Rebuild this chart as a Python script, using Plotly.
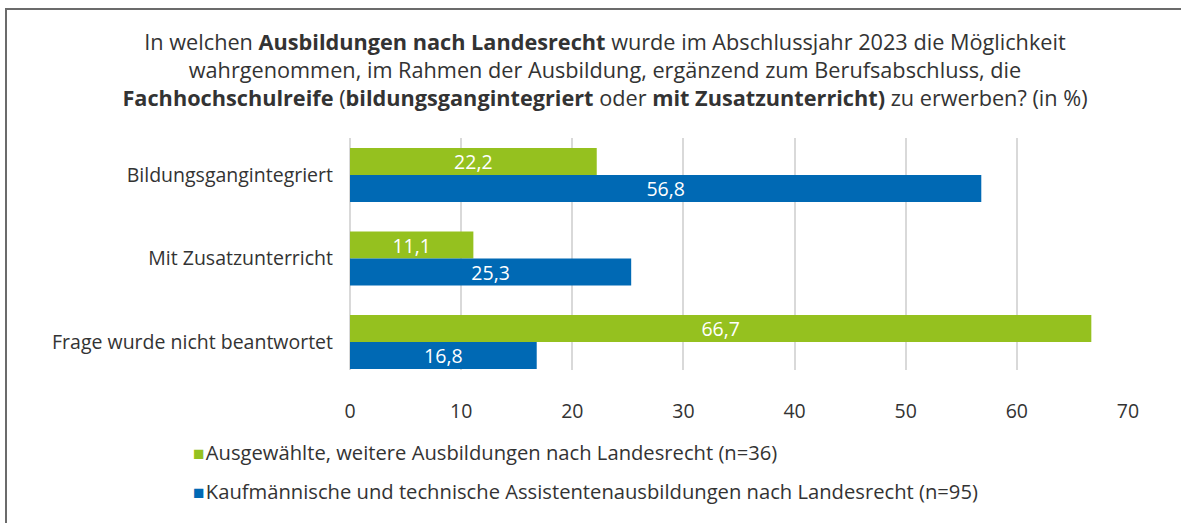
import plotly.graph_objects as go

categories = ["Bildungsgangintegriert", "Mit Zusatzunterricht", "Frage wurde nicht beantwortet"]
series_names = [
    "Ausgewählte, weitere Ausbildungen nach Landesrecht (n=36)",
    "Kaufmännische und technische Assistentenausbildungen nach Landesrecht (n=95)",
]
green_values = [22.2, 11.1, 66.7]
blue_values = [56.8, 25.3, 16.8]
x_ticks = [0, 10, 20, 30, 40, 50, 60, 70]

GREEN = "#95C11F"
BLUE = "#0069B4"
FONT = "Open Sans, Noto Sans, sans-serif"
TXT = "#333333"
FS = 19.5

fig = go.Figure()
for name, vals, col in [(series_names[0], green_values, GREEN), (series_names[1], blue_values, BLUE)]:
    fig.add_trace(go.Bar(
        y=categories, x=vals, name=name, orientation="h",
        marker=dict(color=col, line=dict(width=0)),
        texttemplate="%{x:.1f}", textposition="inside", insidetextanchor="middle",
        constraintext="none",
        textfont=dict(color="white", size=FS, family=FONT),
        showlegend=False, hoverinfo="skip",
    ))

title_html = ("In welchen <b>Ausbildungen nach Landesrecht</b> wurde im Abschlussjahr 2023 die Möglichkeit<br>"
              "wahrgenommen, im Rahmen der Ausbildung, ergänzend zum Berufsabschluss, die<br>"
              "<b>Fachhochschulreife</b> (<b>bildungsgangintegriert</b> oder <b>mit Zusatzunterricht)</b> zu erwerben? (in %)")

fig.update_layout(
    width=1181, height=523,
    paper_bgcolor="white", plot_bgcolor="white",
    margin=dict(l=350, r=53, t=138, b=153),
    barmode="group", bargap=0.353, bargroupgap=0,
    separators=",.",
    font=dict(family=FONT, color=TXT, size=FS),
    title=dict(text=title_html, x=605/1181, xanchor="center", xref="container",
               y=1 - 50/523, yanchor="top", yref="container",
               font=dict(size=21.7, family=FONT, color=TXT)),
    xaxis=dict(range=[0, 70], tickvals=x_ticks, showgrid=True, gridcolor="#d9d9d9", gridwidth=2,
               zeroline=True, zerolinecolor="#d9d9d9", zerolinewidth=2,
               ticks="", ticklabelstandoff=27, tickfont=dict(size=FS, color=TXT), showline=False),
    yaxis=dict(type="category", range=[2.335, -0.443], ticks="", showgrid=False,
               ticklabelstandoff=16, tickfont=dict(size=FS, color=TXT), showline=False),
)

# legend as annotations
leg_y = [452, 491]
for name, col, py in [(series_names[0], GREEN, leg_y[0]), (series_names[1], BLUE, leg_y[1])]:
    fig.add_annotation(
        text=f"<span style='color:{col};font-size:19px'>■</span><span style='font-size:5px'> </span>{name}",
        xref="paper", yref="paper",
        x=(191 - 350) / 778, y=(370 - py) / 232,
        xanchor="left", yanchor="middle", showarrow=False,
        font=dict(size=20.2, family=FONT, color=TXT),
    )

# frame border (top and left visible)
fig.add_shape(type="rect", xref="paper", yref="paper",
              x0=(6 - 350) / 778, x1=(1200 - 350) / 778,
              y0=(370 - 560) / 232, y1=(370 - 9) / 232,
              line=dict(color="#6b6b6b", width=2), fillcolor="rgba(0,0,0,0)", layer="below")

fig.write_html("out.html", config={"displayModeBar": False},
               post_script="document.body.style.margin='0';document.body.style.overflow='hidden';")
